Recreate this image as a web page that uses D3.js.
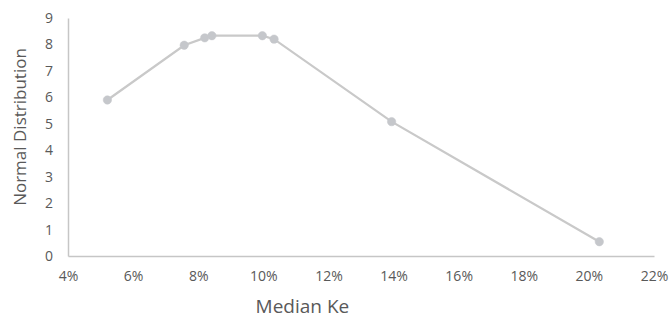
<!DOCTYPE html>
<html>
<head>
<meta charset="utf-8">
<script src="https://cdn.jsdelivr.net/npm/d3@7"></script>
<style>
  html, body { margin: 0; padding: 0; background: #fff; }
  svg { display: block; }
  text { font-family: "Open Sans", sans-serif; fill: #595959; }
</style>
</head>
<body>
<svg id="chart" width="671" height="321"></svg>
<script>
// Median Ke (%) against the normal distribution density
const medianKe = [5.21, 7.57, 8.20, 8.42, 9.97, 10.33, 13.94, 20.32];
const normalDist = [5.90, 7.97, 8.25, 8.33, 8.33, 8.20, 5.08, 0.54];
const xTicks = [4, 6, 8, 10, 12, 14, 16, 18, 20, 22];
const yTicks = [0, 1, 2, 3, 4, 5, 6, 7, 8, 9];

const svg = d3.select("#chart");
const margin = { left: 68, right: 17, top: 18, bottom: 65 };
const W = 671, H = 321;

const x = d3.scaleLinear().domain([4, 22]).range([margin.left, W - margin.right]);
const y = d3.scaleLinear().domain([0, 9]).range([H - margin.bottom, margin.top]);

const axisColor = "#c6c6c6";

// x axis
const gx = svg.append("g")
  .attr("transform", `translate(0,${y(0)})`)
  .call(d3.axisBottom(x).tickValues(xTicks).tickSize(0).tickPadding(15).tickFormat(d => d + "%"));
gx.select(".domain").attr("stroke", axisColor).attr("stroke-width", 1.5);
gx.selectAll("text").style("font-size", "14px").attr("fill", "#595959");

// y axis
const gy = svg.append("g")
  .attr("transform", `translate(${x(4)},0)`)
  .call(d3.axisLeft(y).tickValues(yTicks).tickSize(0).tickPadding(15).tickFormat(d3.format("d")));
gy.select(".domain").attr("stroke", axisColor).attr("stroke-width", 1.5);
gy.selectAll("text").style("font-size", "14px").attr("fill", "#595959");

// axis titles
svg.append("text")
  .attr("x", x(11.2)).attr("y", 313)
  .attr("text-anchor", "middle")
  .style("font-size", "19px")
  .text("Median Ke");

svg.append("text")
  .attr("transform", `translate(26,127) rotate(-90)`)
  .attr("text-anchor", "middle")
  .style("font-size", "17px")
  .text("Normal Distribution");

// series
const pts = medianKe.map((k, i) => ({ k, v: normalDist[i] }));
const line = d3.line().x(d => x(d.k)).y(d => y(d.v));

svg.append("path")
  .datum(pts)
  .attr("fill", "none")
  .attr("stroke", "#c9c9c9")
  .attr("stroke-width", 2.25)
  .attr("d", line);

svg.selectAll("circle.pt")
  .data(pts)
  .join("circle")
  .attr("class", "pt")
  .attr("cx", d => x(d.k))
  .attr("cy", d => y(d.v))
  .attr("r", 4.2)
  .attr("fill", "#c5c7cb")
  .attr("stroke", "#c5c7cb")
  .attr("stroke-width", 0.5);
</script>
</body>
</html>
